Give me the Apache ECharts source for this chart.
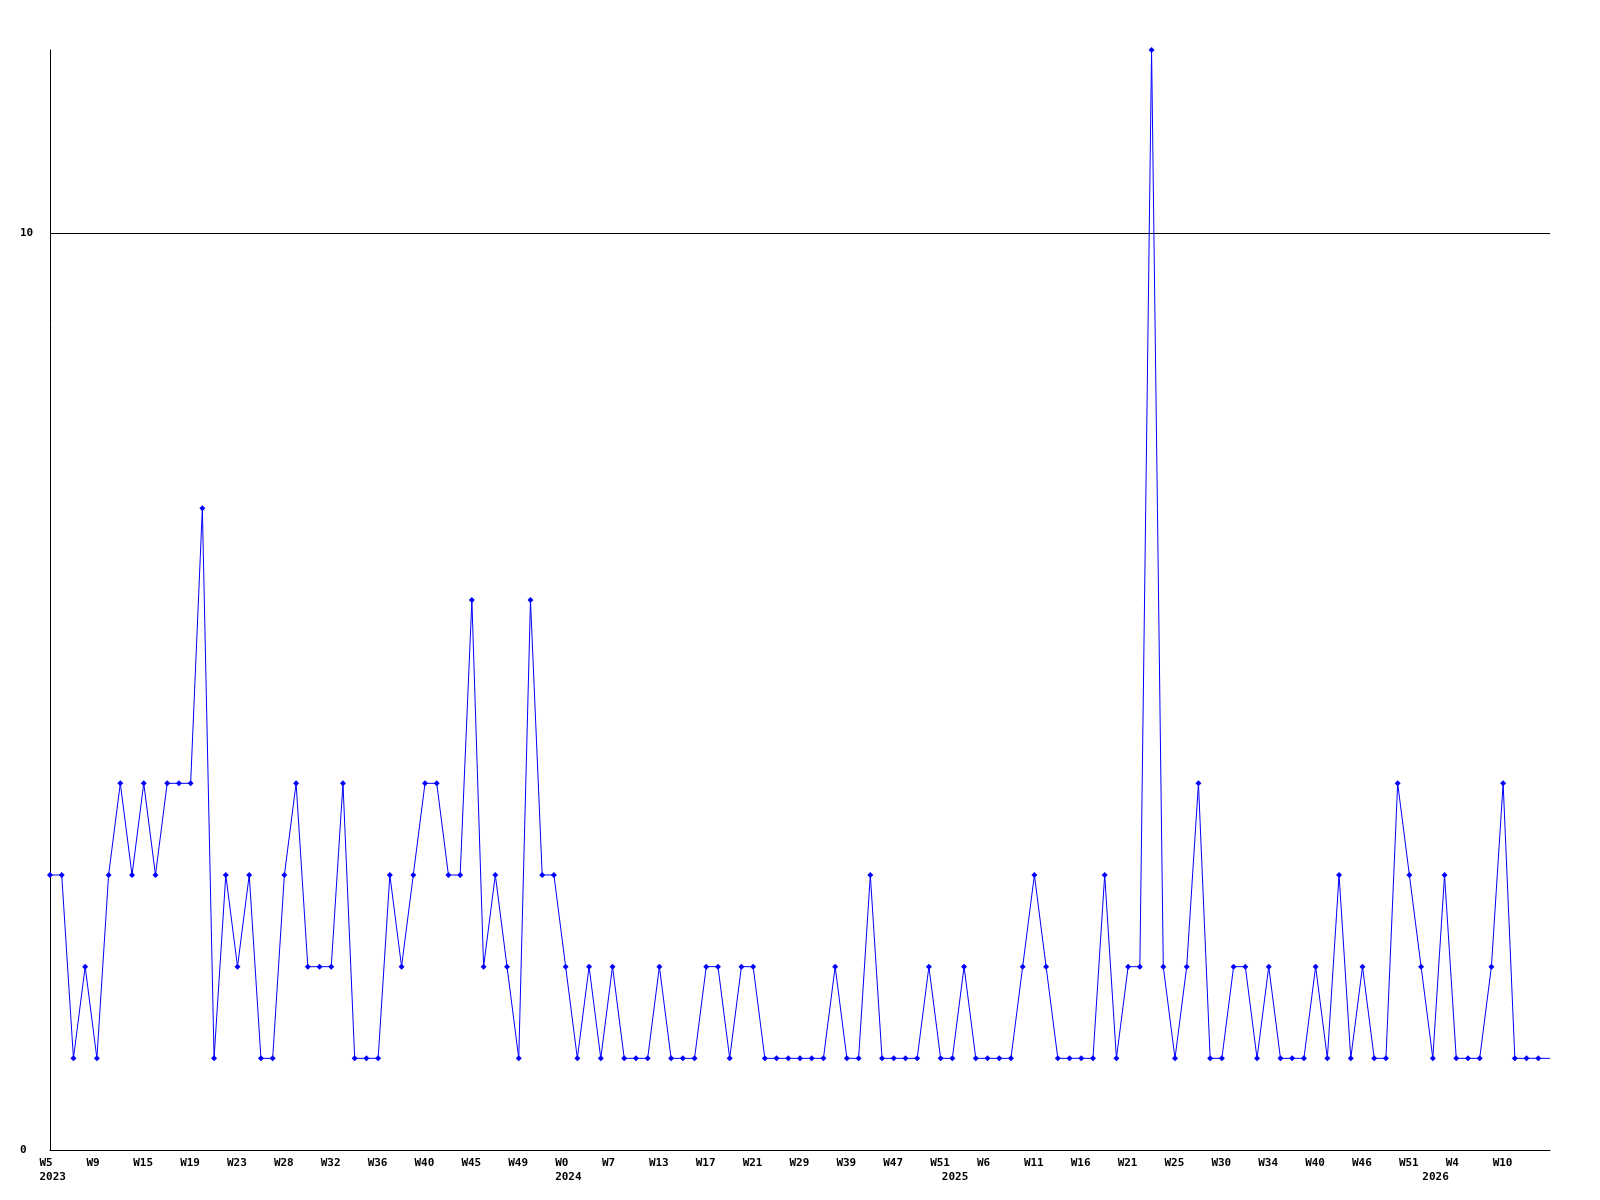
<!DOCTYPE html>
<html>
<head>
<meta charset="utf-8">
<script src="https://cdn.jsdelivr.net/npm/echarts@6/dist/echarts.min.js"></script>
<style>
html,body{margin:0;padding:0;background:#fff;}
#chart{width:1600px;height:1200px;}
</style>
</head>
<body>
<div id="chart"></div>
<script>
// Weekly counts, one per point (left to right)
const values = [
  3,3,1,2,1,3,4,3,4,3,4,4,4,7,1,3,2,3,1,1,3,4,
  2,2,2,4,1,1,1,3,2,3,4,4,3,3,6,2,3,2,1,6,3,3,
  2,1,2,1,2,1,1,1,2,1,1,1,2,2,1,2,2,1,1,1,1,1,
  1,2,1,1,3,1,1,1,1,2,1,1,2,1,1,1,1,2,3,2,1,1,
  1,1,3,1,2,2,12,2,1,2,4,1,1,2,2,1,2,1,1,1,2,1,3,
  1,2,1,1,4,3,2,1,3,1,1,1,2,4,1,1,1,
  1
];
// Week tick labels, one every 4 points starting at the first point
const weekLabels = ['W5','W9','W15','W19','W23','W28','W32','W36','W40','W45','W49','W0',
  'W7','W13','W17','W21','W29','W39','W47','W51','W6','W11','W16','W21',
  'W25','W30','W34','W40','W46','W51','W4','W10'];
const weekStep = 4;
// Year labels and the point index where each starts
const yearLabels = ['2023','2024','2025','2026'];
const yearIndex = [0,44,77,118];
const yTickLabels = [0,10];

const n = values.length;
const seriesData = values.map((v,i)=> i === n-1 ? {value:[i,v], symbol:'none'} : [i,v]);
const weekTickValues = weekLabels.map((_,k)=>k*weekStep);

const font = {fontFamily:'DejaVu Sans Mono', fontWeight:'bold', fontSize:11, color:'#000'};

const chart = echarts.init(document.getElementById('chart'), null, {renderer:'canvas'});
chart.setOption({
  backgroundColor:'#ffffff',
  animation:false,
  grid:[
    {left:50, right:50, top:50, bottom:50},
    {left:39.5, right:60.5, top:50, bottom:50}
  ],
  xAxis:[
    {gridIndex:0, type:'value', min:0, max:n-1,
     axisLine:{show:true, onZero:false, lineStyle:{color:'#000', width:1}},
     axisTick:{show:false}, axisLabel:{show:false}, splitLine:{show:false}},
    {gridIndex:1, type:'value', min:0, max:n-1, position:'bottom',
     axisLine:{show:false}, axisTick:{show:false}, splitLine:{show:false},
     axisLabel:Object.assign({show:true, align:'left', margin:8, customValues:weekTickValues,
       formatter:(v)=>weekLabels[Math.round(v/weekStep)] || ''}, font)},
    {gridIndex:1, type:'value', min:0, max:n-1, position:'bottom',
     axisLine:{show:false}, axisTick:{show:false}, splitLine:{show:false},
     axisLabel:Object.assign({show:true, align:'left', margin:22, customValues:yearIndex,
       formatter:(v)=>{const j=yearIndex.indexOf(Math.round(v)); return j>=0?yearLabels[j]:'';}}, font)}
  ],
  yAxis:[
    {gridIndex:0, type:'value', min:0, max:12,
     axisLine:{show:true, onZero:false, lineStyle:{color:'#000', width:1}},
     axisTick:{show:false, customValues:yTickLabels},
     axisLabel:Object.assign({show:true, align:'left', margin:30, padding:[3,0,0,0], customValues:yTickLabels}, font),
     splitLine:{show:true, lineStyle:{color:'#000', width:1}}},
    {gridIndex:1, type:'value', min:0, max:1, show:false}
  ],
  series:[{
    type:'line', xAxisIndex:0, yAxisIndex:0, z:5,
    data:seriesData,
    symbol:'diamond', symbolSize:6, showSymbol:true,
    lineStyle:{color:'#0000ff', width:1},
    itemStyle:{color:'#0000ff'},
    emphasis:{disabled:true}
  }]
});
</script>
</body>
</html>
